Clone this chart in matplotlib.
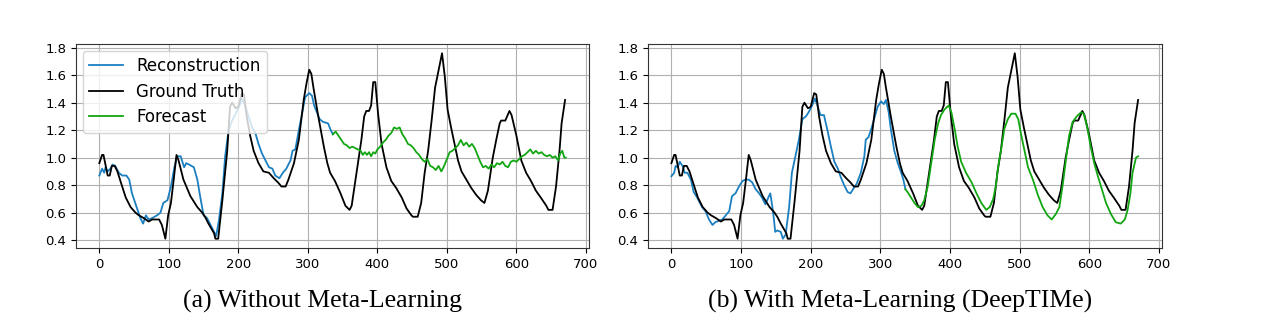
import matplotlib
matplotlib.use("Agg")
import matplotlib.pyplot as plt
import numpy as np

# ground truth series (shared by both panels)
gt_t = [0, 4, 6, 12, 15, 18, 22, 26, 31, 38,
        45, 52, 57, 64, 71, 76, 86, 90, 95, 99,
        103, 107, 111, 114, 121, 131, 141, 148, 152, 157,
        165, 167, 171, 177, 184, 188, 191, 196, 200, 205,
        208, 212, 217, 222, 229, 236, 244, 251, 257, 262,
        268, 272, 280, 287, 294, 298, 302, 305, 308, 315,
        323, 328, 332, 339, 347, 354, 360, 363, 370, 377,
        381, 384, 388, 391, 394, 397, 401, 406, 413, 420,
        427, 435, 442, 449, 451, 458, 463, 468, 473, 478,
        483, 487, 493, 497, 501, 506, 511, 516, 521, 528,
        535, 542, 549, 554, 559, 566, 571, 576, 578, 584,
        590, 593, 600, 607, 614, 621, 628, 635, 643, 646,
        652, 657, 662, 665, 670]
gt_v = [0.96, 1.02, 1.02, 0.87, 0.87, 0.94, 0.94, 0.90, 0.82, 0.71,
        0.64, 0.60, 0.58, 0.56, 0.535, 0.55, 0.55, 0.51, 0.41, 0.58,
        0.67, 0.84, 1.02, 0.98, 0.84, 0.72, 0.64, 0.60, 0.57, 0.52,
        0.45, 0.41, 0.41, 0.69, 1.05, 1.37, 1.40, 1.36, 1.37, 1.47,
        1.46, 1.30, 1.16, 1.05, 0.96, 0.90, 0.89, 0.85, 0.82, 0.79,
        0.79, 0.84, 0.96, 1.13, 1.42, 1.54, 1.64, 1.61, 1.51, 1.30,
        1.08, 0.96, 0.89, 0.83, 0.74, 0.65, 0.62, 0.65, 0.89, 1.13,
        1.30, 1.34, 1.34, 1.38, 1.55, 1.55, 1.32, 1.10, 0.93, 0.83,
        0.78, 0.71, 0.63, 0.58, 0.57, 0.57, 0.67, 0.89, 1.05, 1.27,
        1.51, 1.61, 1.76, 1.59, 1.35, 1.22, 1.10, 0.98, 0.90, 0.84,
        0.78, 0.73, 0.69, 0.67, 0.76, 1.00, 1.13, 1.25, 1.27, 1.27,
        1.34, 1.31, 1.16, 0.98, 0.89, 0.83, 0.76, 0.71, 0.65, 0.62,
        0.62, 0.79, 1.05, 1.25, 1.42]

# (a) without meta-learning
rec_a_t = [0, 4, 7, 9, 12, 16, 19, 23, 28, 33,
           39, 43, 47, 55, 59, 63, 67, 71, 76, 83,
           88, 92, 98, 103, 108, 112, 117, 122, 125, 129,
           136, 141, 145, 150, 155, 160, 165, 168, 172, 177,
           181, 186, 191, 196, 201, 205, 209, 214, 220, 225,
           229, 234, 239, 244, 249, 253, 259, 264, 269, 275,
           278, 282, 287, 292, 296, 302, 306, 309, 313, 317,
           322, 329, 333, 336]
rec_a_v = [0.87, 0.92, 0.89, 0.93, 0.90, 0.92, 0.95, 0.94, 0.89, 0.87,
           0.87, 0.84, 0.74, 0.62, 0.56, 0.52, 0.58, 0.55, 0.56, 0.58,
           0.60, 0.67, 0.69, 0.79, 0.93, 1.01, 1.01, 0.93, 0.96, 0.95,
           0.93, 0.84, 0.72, 0.58, 0.56, 0.51, 0.46, 0.43, 0.54, 0.74,
           1.01, 1.20, 1.27, 1.32, 1.37, 1.43, 1.39, 1.31, 1.22, 1.17,
           1.10, 1.03, 0.98, 0.93, 0.92, 0.87, 0.85, 0.89, 0.92, 0.98,
           1.05, 1.06, 1.20, 1.33, 1.44, 1.47, 1.45, 1.38, 1.33, 1.28,
           1.26, 1.25, 1.20, 1.17]

fc_a_t = [336, 340, 344, 348, 352, 356, 360, 364, 368, 372,
          376, 379, 382, 385, 388, 391, 394, 397, 400, 404,
          408, 412, 416, 420, 424, 428, 432, 436, 440, 444,
          448, 452, 456, 460, 464, 468, 472, 476, 480, 484,
          488, 492, 496, 500, 504, 508, 512, 516, 520, 524,
          528, 532, 536, 540, 544, 548, 552, 556, 560, 564,
          568, 572, 576, 580, 584, 588, 592, 596, 600, 604,
          608, 612, 616, 620, 624, 628, 632, 636, 640, 644,
          648, 652, 656, 660, 663, 666, 669, 671]
fc_a_v = [1.17, 1.19, 1.16, 1.13, 1.10, 1.09, 1.07, 1.08, 1.07, 1.06,
          1.05, 1.02, 1.04, 1.02, 1.04, 1.01, 1.04, 1.03, 1.06, 1.08,
          1.11, 1.13, 1.16, 1.18, 1.22, 1.21, 1.22, 1.17, 1.14, 1.10,
          1.09, 1.07, 1.04, 1.02, 0.99, 0.97, 0.99, 0.94, 0.93, 0.91,
          0.94, 0.90, 0.94, 0.99, 1.04, 1.05, 1.07, 1.09, 1.13, 1.09,
          1.11, 1.08, 1.10, 1.07, 1.02, 0.97, 0.93, 0.94, 0.92, 0.95,
          0.93, 0.96, 0.95, 0.97, 0.94, 0.93, 0.97, 0.98, 0.97, 0.99,
          1.01, 1.02, 1.04, 1.06, 1.03, 1.05, 1.03, 1.04, 1.02, 1.01,
          1.02, 1.00, 1.01, 0.98, 1.03, 1.05, 1.00, 1.00]

# (b) with meta-learning (DeepTIMe)
rec_b_t = [0, 4, 6, 9, 12, 16, 19, 23, 28, 32,
           37, 44, 49, 54, 59, 63, 68, 73, 78, 83,
           87, 92, 97, 102, 106, 111, 116, 121, 126, 130,
           135, 140, 142, 145, 147, 149, 152, 157, 160, 164,
           169, 173, 178, 183, 188, 193, 197, 202, 206, 209,
           214, 219, 224, 229, 234, 239, 243, 248, 253, 257,
           262, 266, 272, 277, 279, 283, 287, 291, 296, 301,
           305, 308, 312, 315, 320, 325, 330, 333, 336]
rec_b_v = [0.865, 0.89, 0.94, 0.93, 0.97, 0.94, 0.89, 0.89, 0.84, 0.75,
           0.71, 0.64, 0.61, 0.55, 0.51, 0.53, 0.54, 0.55, 0.58, 0.61,
           0.72, 0.74, 0.79, 0.83, 0.84, 0.84, 0.82, 0.77, 0.74, 0.71,
           0.66, 0.72, 0.74, 0.64, 0.56, 0.46, 0.47, 0.46, 0.41, 0.44,
           0.64, 0.89, 1.01, 1.13, 1.28, 1.30, 1.33, 1.38, 1.43, 1.39,
           1.31, 1.31, 1.20, 1.08, 0.97, 0.92, 0.86, 0.80, 0.75, 0.74,
           0.78, 0.81, 0.89, 1.01, 1.13, 1.15, 1.21, 1.28, 1.37, 1.41,
           1.39, 1.42, 1.33, 1.21, 1.05, 0.96, 0.89, 0.84, 0.77]

fc_b_t = [336, 339, 344, 349, 354, 359, 363, 368, 373, 378,
          383, 387, 392, 398, 402, 407, 411, 416, 423, 431,
          438, 445, 452, 457, 462, 466, 469, 474, 478, 483,
          488, 494, 498, 502, 507, 512, 519, 526, 533, 540,
          546, 552, 557, 562, 567, 571, 576, 582, 588, 592,
          597, 602, 607, 612, 618, 624, 631, 638, 645, 651,
          655, 659, 662, 667, 670]
fc_b_v = [0.77, 0.75, 0.71, 0.67, 0.64, 0.65, 0.69, 0.79, 0.96, 1.13,
          1.25, 1.31, 1.35, 1.38, 1.33, 1.20, 1.08, 0.97, 0.89, 0.82,
          0.74, 0.67, 0.62, 0.64, 0.70, 0.80, 0.93, 1.08, 1.21, 1.28,
          1.32, 1.32, 1.28, 1.17, 1.05, 0.93, 0.84, 0.73, 0.64, 0.58,
          0.55, 0.59, 0.64, 0.81, 1.01, 1.16, 1.26, 1.30, 1.33, 1.32,
          1.22, 1.08, 0.96, 0.87, 0.77, 0.67, 0.59, 0.53, 0.52, 0.55,
          0.62, 0.74, 0.89, 1.00, 1.01]

captions = ["(a) Without Meta-Learning", "(b) With Meta-Learning (DeepTIMe)"]

BLUE = "#1b7fc0"
GREEN = "#12a612"
LW = 1.3

fig = plt.figure(figsize=(12.8, 3.33), dpi=100)
ax_a = fig.add_axes([0.0594, 0.2553, 0.4008, 0.6126])
ax_b = fig.add_axes([0.5063, 0.2553, 0.4016, 0.6126])

panels = [(ax_a, rec_a_t, rec_a_v, fc_a_t, fc_a_v),
          (ax_b, rec_b_t, rec_b_v, fc_b_t, fc_b_v)]

for ax, rt, rv, ft, fv in panels:
    ax.plot(rt, rv, color=BLUE, lw=LW, label="Reconstruction")
    ax.plot(gt_t, gt_v, color="black", lw=LW, label="Ground Truth")
    ax.plot(ft, fv, color=GREEN, lw=LW, label="Forecast")
    ax.set_xlim(-33.5, 704.5)
    ax.set_ylim(0.3425, 1.8275)
    ax.set_xticks(np.arange(0, 701, 100))
    ax.set_yticks(np.arange(0.4, 1.81, 0.2))
    ax.grid(True, color="#b0b0b0", lw=0.8)
    ax.tick_params(labelsize=9.5)
    for s in ax.spines.values():
        s.set_color("#333333")

ax_a.legend(loc="upper left", fontsize=12, handlelength=2.0,
            borderaxespad=0.4, labelspacing=0.45)

# subfigure captions, centred under each panel
serif = ["Liberation Serif", "DejaVu Serif"]
fig.text(0.252, 0.095, captions[0], ha="center", va="center",
         fontsize=18.5, family=serif)
fig.text(0.703, 0.095, captions[1], ha="center", va="center",
         fontsize=18.5, family=serif)

fig.savefig("out.png", dpi=100)
